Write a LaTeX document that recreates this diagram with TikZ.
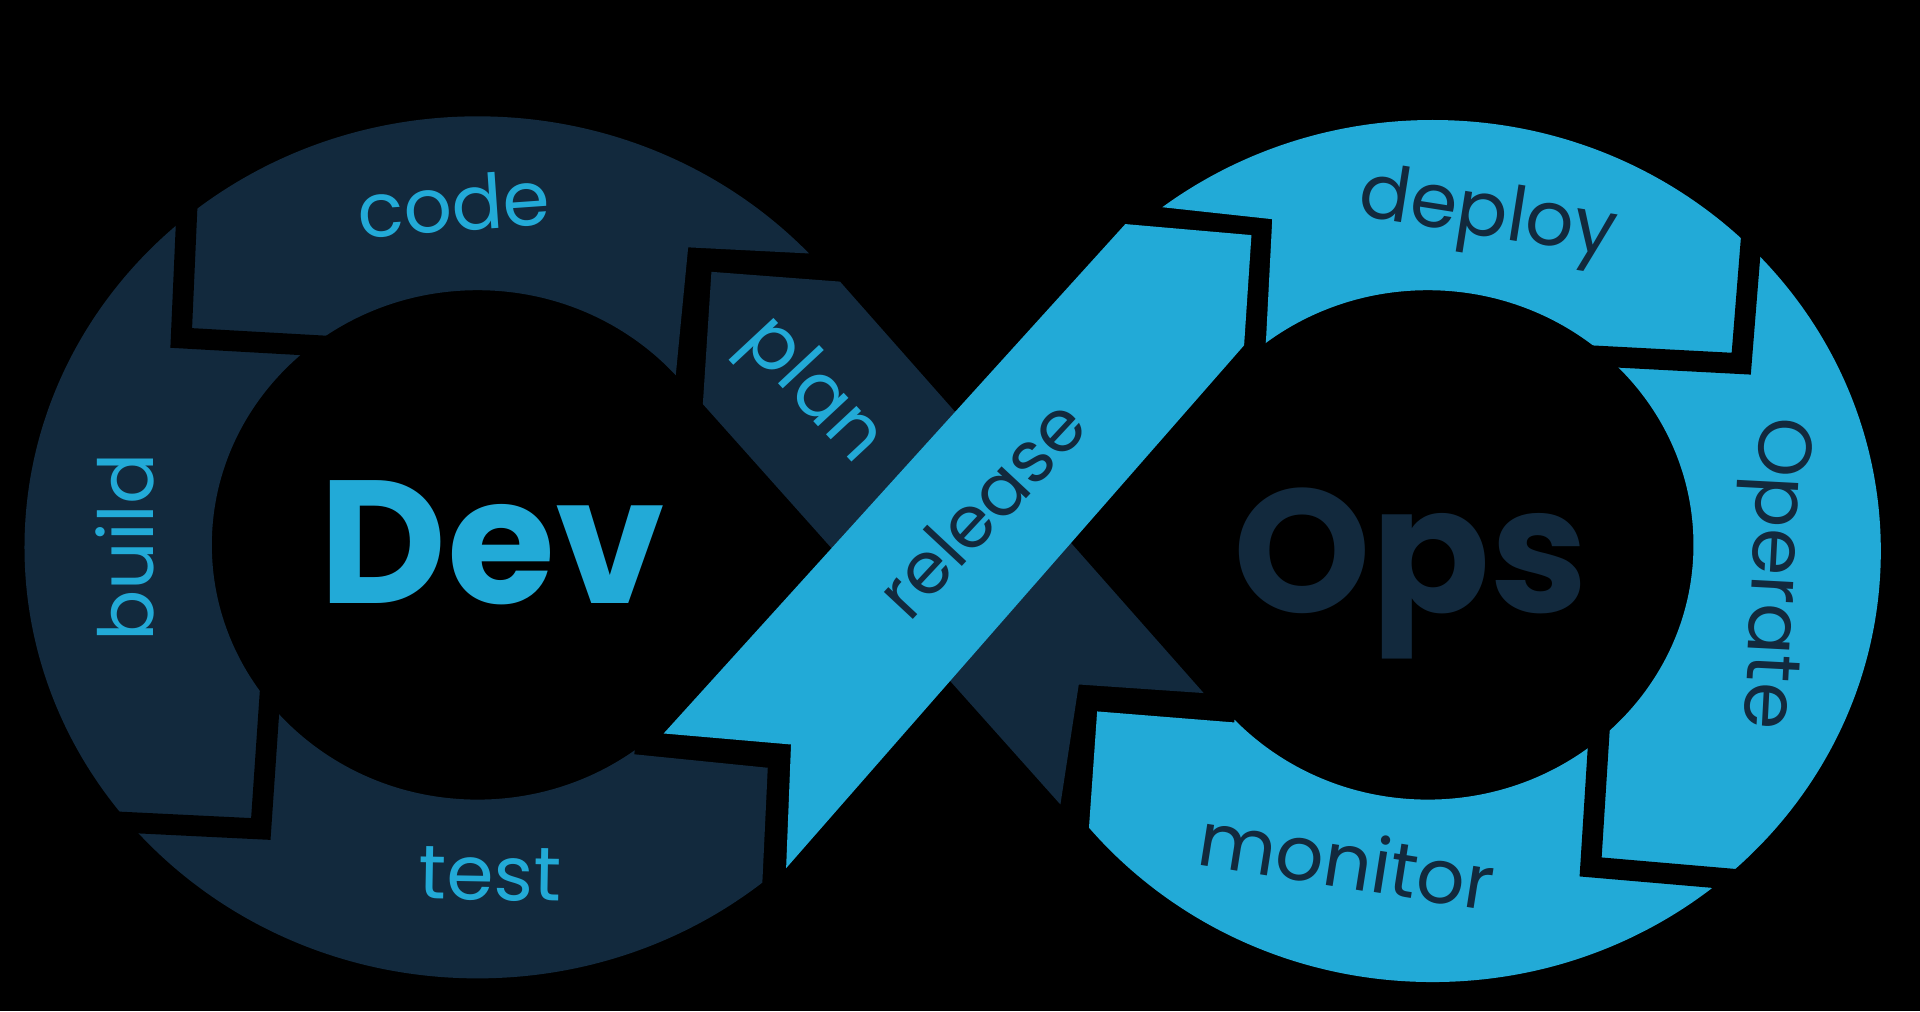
\documentclass[tikz,border=0pt]{standalone}
\usepackage{fontspec}
\setmainfont{Poppins}
\definecolor{navy}{HTML}{12293D}
\definecolor{sky}{HTML}{22AAD7}
\tikzset{
  gapline/.style={draw=black,line width=17,line join=miter},
  lbl/.style={font=\fontsize{62}{62}\selectfont,inner sep=0pt},
  big/.style={font=\fontsize{143}{143}\selectfont\bfseries,inner sep=0pt,anchor=base}
}
\begin{document}
\begin{tikzpicture}[x=1pt,y=-1pt]
\fill[black] (0,0) rectangle (1568,826);
\useasboundingbox (0,0) rectangle (1568,826);
% left ring (code, build, test)
\begin{scope}
\clip (-50,-50) -- (720,-50) -- (720,210) -- (562,202) -- (552,305) -- (518,616) -- (627,627) -- (616,860) -- (-50,860) -- cycle;
\fill[navy,even odd rule] (390,447) ellipse [x radius=370, y radius=352] (390,445) ellipse [x radius=217, y radius=208];
\end{scope}
% right ring (deploy, operate, monitor)
\begin{scope}
\clip (1620,-50) -- (1620,880) -- (875,880) -- (896,581) -- (1008,590) -- (1034,276) -- (1039,179) -- (800,153) -- (800,-50) -- cycle;
\fill[sky,even odd rule] (1170,450) ellipse [x radius=366, y radius=352] (1166,445) ellipse [x radius=217, y radius=208];
\end{scope}
% gaps between segments
\coordinate (g1a) at (154,140); \coordinate (g1b) at (148,276); \coordinate (g1c) at (290,284);
\coordinate (g2a) at (50,669); \coordinate (g2b) at (213,677); \coordinate (g2c) at (221,560);
\coordinate (g3a) at (1433,160); \coordinate (g3b) at (1422,297); \coordinate (g3c) at (1270,289);
\coordinate (g4a) at (1309,550); \coordinate (g4b) at (1299,708); \coordinate (g4c) at (1450,721);
\draw[gapline] (g1a) -- (g1b) -- (g1c);
\draw[gapline] (g2a) -- (g2b) -- (g2c);
\draw[gapline] (g3a) -- (g3b) -- (g3c);
\draw[gapline] (g4a) -- (g4b) -- (g4c);
% plan ribbon (under)
\fill[navy] (581,222) -- (686,230) -- (983,566) -- (881,559) -- (866,657) -- (574,330) -- cycle;
% release ribbon (over)
\fill[sky] (542,599) -- (919,183) -- (1022,192) -- (1016,282) -- (642,709) -- (646,608) -- cycle;
% labels
\node[lbl,text=sky,rotate=4,anchor=base] (code) at (372,189) {code};
\node[lbl,text=sky,rotate=90,anchor=base] (build) at (125,447) {build};
\node[lbl,text=sky,rotate=-1,anchor=base] (test) at (400,735) {test};
\node[lbl,text=sky,rotate=-47] (plan) at (662,320) {plan};
\node[lbl,text=navy,rotate=47,font=\fontsize{59}{59}\selectfont] (release) at (801,415) {release};
\node[lbl,text=navy,rotate=-9] (deploy) at (1215,178) {deploy};
\node[lbl,text=navy,rotate=-93] (operate) at (1445,468) {Operate};
\node[lbl,text=navy,rotate=-9] (monitor) at (1100,702) {monitor};
\node[big,text=sky] (dev) at (402,493) {Dev};
\node[big,text=navy] (ops) at (1152,500) {Ops};
\end{tikzpicture}
\end{document}
